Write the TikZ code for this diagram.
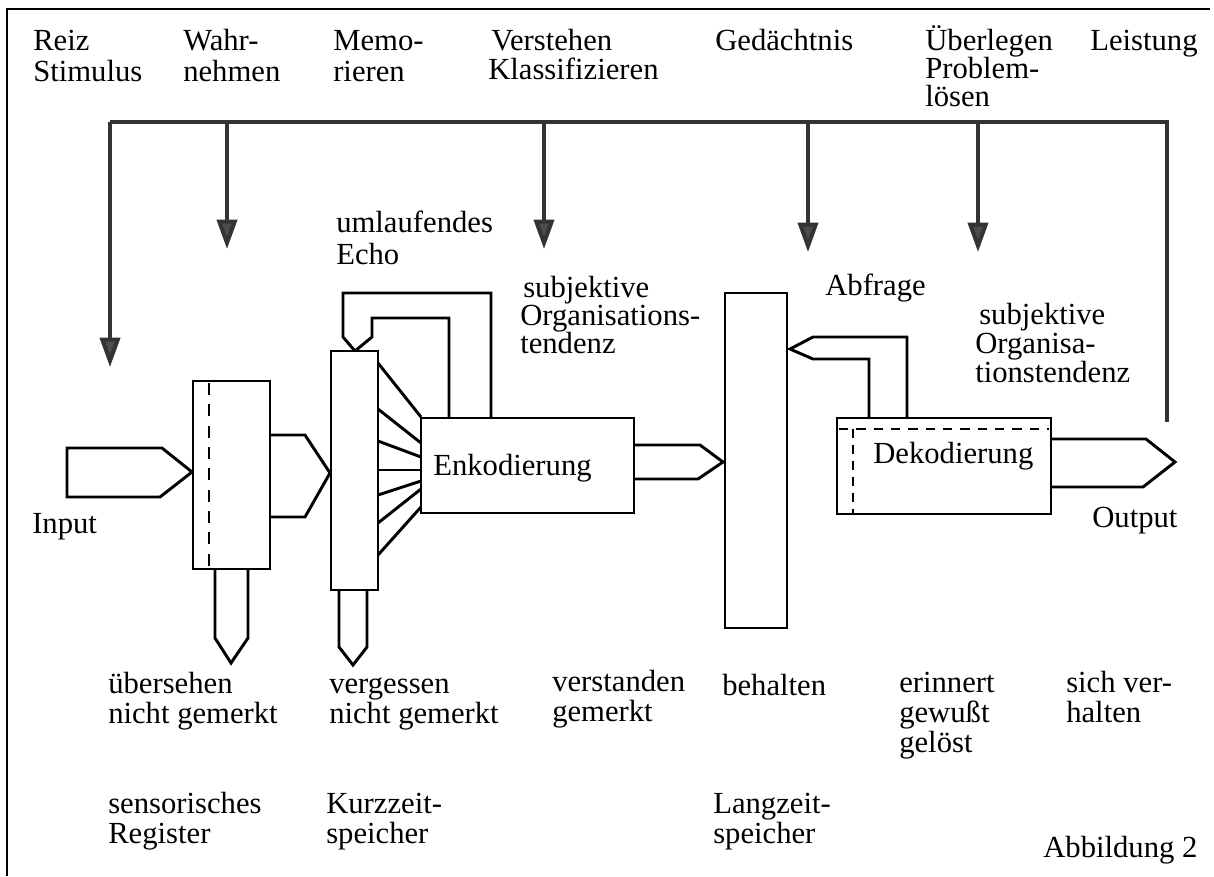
\documentclass[tikz,border=0pt]{standalone}
\usepackage{fontspec}
\setmainfont{Liberation Serif}
\usetikzlibrary{arrows.meta,fit}
\newcommand\lab[4]{\node[lbl] (#1) at (#2,#3) {#4};}
\begin{document}
\begin{tikzpicture}[x=0.75pt,y=-0.75pt,
  ln/.style={line width=2.2pt, line join=miter, line cap=butt},
  bus/.style={line width=3pt, draw=black!80},
  drop/.style={bus, -{Triangle[width=15pt,length=22pt,fill=black!70]}},
  box/.style={draw, line width=2.2pt, inner sep=0pt, rectangle},
  dsh/.style={line width=2.2pt, dash pattern=on 9pt off 7pt},
  lbl/.style={anchor=base west, inner sep=0pt, font=\fontsize{23}{22.5}\selectfont}]
\useasboundingbox (0,0) rectangle (1214,876);
% frame
\draw[line width=1.8pt] (7,876) -- (7,9) -- (1210,9);

% top labels
\lab{reiz}{33}{50}{Reiz}
\lab{stim}{33}{81}{Stimulus}
\lab{wahr}{183}{50}{Wahr-}
\lab{nehm}{183}{81}{nehmen}
\lab{memo}{333}{50}{Memo-}
\lab{rier}{333}{81}{rieren}
\lab{vers}{491}{50}{Verstehen}
\lab{klas}{488}{79}{Klassifizieren}
\lab{geda}{715}{50}{Gedächtnis}
\lab{uebe}{925}{50}{Überlegen}
\lab{prob}{925}{78}{Problem-}
\lab{loes}{925}{106}{lösen}
\lab{leis}{1090}{50}{Leistung}

% bus
\coordinate (b0) at (110,122);
\coordinate (b1) at (227,122);
\coordinate (b2) at (544,122);
\coordinate (b3) at (808,122);
\coordinate (b4) at (978,122);
\coordinate (b5) at (1167,122);
\coordinate (d0) at (110,367);
\coordinate (d1) at (227,249);
\coordinate (d2) at (544,249);
\coordinate (d3) at (808,252);
\coordinate (d4) at (978,252);
\coordinate (d5) at (1167,422);
\draw[bus] (b0) -- (b5) -- (d5);
\draw[drop] (b0) -- (d0);
\draw[drop] (b1) -- (d1);
\draw[drop] (b2) -- (d2);
\draw[drop] (b3) -- (d3);
\draw[drop] (b4) -- (d4);

% boxes
\node[box, fit={(193,381) (270,569)}] (sr) {};
\node[box, fit={(331,351) (378,590)}] (kzs) {};
\node[box, fit={(421,418) (634,513)}] (enk) {};
\node[box, fit={(725,293) (787,628)}] (lzs) {};
\node[box, fit={(837,418) (1051,514)}] (dek) {};
\lab{enkt}{433}{475}{Enkodierung}
\lab{dekt}{873}{463}{Dekodierung}

% dashed lines
\draw[dsh] (209,383) -- (209,567);
\draw[line width=2.2pt, dash pattern=on 7pt off 6pt] (839,429) -- (1049,429);
\draw[line width=2.2pt, dash pattern=on 7pt off 5pt] (853,429) -- (853,513);

% input arrow
\draw[ln] (67,448) -- (162,448) -- (192,472) -- (160,497) -- (67,497) -- cycle;
\lab{inp}{32}{533}{Input}

% sr -> kzs
\draw[ln] (270,435) -- (305,435) -- (330,473) -- (305,517) -- (270,517);
% pointers down
\draw[ln] (215,569) -- (215,638) -- (231,663) -- (248,638) -- (248,569);
\draw[ln] (339,590) -- (339,647) -- (353,665) -- (367,647) -- (367,590);

% echo loops
\draw[ln] (491,418) -- (491,293) -- (343,293) -- (343,337) -- (355,351);
\draw[ln] (449,418) -- (449,318) -- (372,318) -- (372,337) -- (355,351);
\lab{uml}{336}{232}{umlaufendes}
\lab{echo}{336}{264}{Echo}

% fan
\draw[ln] (378,363) -- (421,417);
\draw[ln] (378,409) -- (421,443);
\draw[ln] (378,441) -- (421,457);
\draw[ln] (378,470) -- (421,470);
\draw[ln] (378,495) -- (421,481);
\draw[ln] (378,523) -- (421,489);
\draw[ln] (378,555) -- (421,507);

% enk -> lzs
\draw[ln] (634,445) -- (700,445) -- (723,462) -- (698,479) -- (634,479);
\lab{subj1}{523}{297}{subjektive}
\lab{org1}{520}{325}{Organisations-}
\lab{tend1}{520}{353}{tendenz}

% abfrage
\draw[ln] (907,418) -- (907,337) -- (813,337) -- (790,349) -- (813,359) -- (869,359) -- (869,418);
\lab{abfr}{825}{295}{Abfrage}
\lab{subj2}{979}{324}{subjektive}
\lab{org2}{975}{353}{Organisa-}
\lab{tend2}{975}{382}{tionstendenz}

% output
\draw[ln] (1051,439) -- (1146,439) -- (1175,462) -- (1143,487) -- (1051,487);
\lab{outp}{1092}{527}{Output}

% bottom labels
\lab{ueber}{108}{693}{übersehen}
\lab{ngm1}{108}{723}{nicht gemerkt}
\lab{verg}{329}{693}{vergessen}
\lab{ngm2}{329}{723}{nicht gemerkt}
\lab{verst}{552}{691}{verstanden}
\lab{gem}{552}{721}{gemerkt}
\lab{beh}{722}{695}{behalten}
\lab{erin}{899}{692}{erinnert}
\lab{gew}{899}{722}{gewußt}
\lab{gel}{899}{752}{gelöst}
\lab{sich}{1066}{692}{sich ver-}
\lab{halt}{1066}{722}{halten}
\lab{sens}{108}{813}{sensorisches}
\lab{reg}{108}{843}{Register}
\lab{kurz}{326}{813}{Kurzzeit-}
\lab{spk}{326}{843}{speicher}
\lab{lang}{713}{813}{Langzeit-}
\lab{spl}{713}{843}{speicher}
\lab{abb}{1043}{857}{Abbildung 2}
\end{tikzpicture}
\end{document}
